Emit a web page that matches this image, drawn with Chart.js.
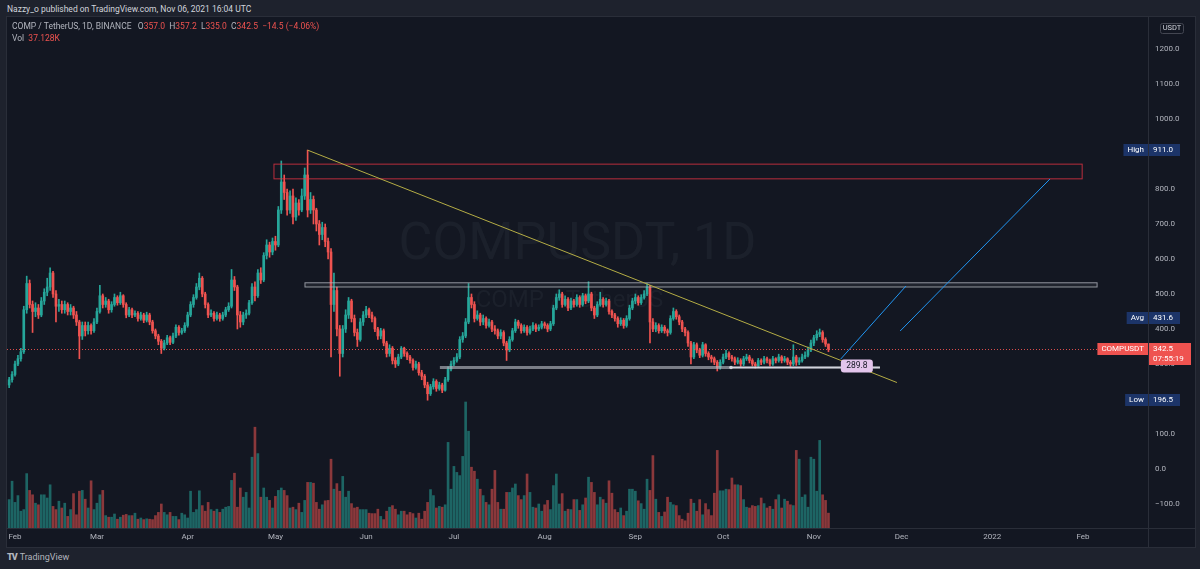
<!DOCTYPE html>
<html>
<head>
<meta charset="utf-8">
<script src="https://cdn.jsdelivr.net/npm/chart.js@4/dist/chart.umd.min.js"></script>
<style>
  html, body { margin: 0; padding: 0; width: 1200px; height: 569px; overflow: hidden; background: #1e222d; font-family: Roboto, "Liberation Sans", Arial, sans-serif; }
  #byline { position: absolute; left: 7px; top: 4px; font-size: 8.5px; line-height: 10px; color: #d1d4dc; }
  #pane { position: absolute; left: 6px; top: 16px; width: 1190px; height: 532px; box-sizing: border-box; border: 1px solid #2a2e39; background: #131722; }
  #wrap { position: absolute; left: 7px; top: 17px; width: 1188px; height: 530px; }
  #legend { position: absolute; left: 12px; top: 20px; font-size: 8.5px; line-height: 12px; color: #b2b5be; }
  #legend .v { color: #ef5350; }
  #logo { position: absolute; left: 7px; top: 551px; font-size: 9px; line-height: 12px; color: #b2b5be; }
  #logo b { font-weight: 900; letter-spacing: -1px; margin-right: 3px; }
</style>
</head>
<body>
<div id="byline">Nazzy_o published on TradingView.com, Nov 06, 2021 16:04 UTC</div>
<div id="pane"></div>
<div id="wrap"><canvas id="chart" width="1188" height="530"></canvas></div>
<div id="legend">
  <div id="legend-ohlc"></div>
  <div id="legend-vol"></div>
</div>
<div id="logo"><b>TV</b>TradingView</div>
<script>
// 日线数据: 第 0 天 = 2021-02-01
const firstDay = -2;
const firstOpen = 240;
const closes = [
  255, 270,
  // Feb
  300, 315, 335, 455, 530, 470, 450, 460, 440, 480, 505, 520, 560, 500, 465, 470, 455, 470, 450, 460, 440, 420, 380, 410, 395, 410, 395, 420,
  // Mar
  450, 495, 470, 480, 455, 470, 490, 475, 495, 470, 440, 455, 440, 445, 430, 440, 425, 440, 420, 395, 380, 365, 345, 360, 375, 362, 380, 405, 390, 395, 410,
  // Apr
  440, 470, 490, 520, 545, 500, 470, 440, 445, 430, 440, 430, 440, 455, 465, 540, 520, 440, 420, 440, 445, 475, 520, 495, 560, 540, 610, 640, 620, 650,
  // May
  640, 740, 820, 790, 740, 780, 720, 760, 740, 780, 840, 740, 770, 740, 700, 670, 690, 650, 620, 470, 510, 400, 330, 400, 440, 480, 430, 390, 370, 420, 440,
  // Jun
  455, 440, 430, 400, 380, 395, 360, 330, 345, 310, 300, 320, 345, 330, 320, 310, 290, 300, 275, 265, 240, 215, 235, 250, 230, 240, 225, 255, 285, 300,
  // Jul
  310, 320, 370, 380, 420, 490, 470, 430, 440, 420, 430, 410, 420, 400, 395, 380, 390, 360, 340, 370, 395, 420, 410, 395, 405, 390, 400, 410, 400, 405, 415,
  // Aug
  410, 400, 415, 460, 490, 500, 470, 485, 460, 480, 470, 490, 470, 495, 480, 500, 460, 440, 470, 485, 470, 480, 450, 440, 430, 415, 425, 410, 430, 460, 480,
  // Sep
  490, 475, 490, 500, 520, 420, 400, 410, 395, 405, 395, 390, 430, 450, 435, 420, 400, 390, 360, 320, 355, 340, 325, 355, 330, 320, 315, 305, 290, 305,
  // Oct
  320, 330, 320, 315, 305, 310, 300, 315, 320, 310, 300, 295, 310, 305, 315, 310, 300, 315, 310, 320, 310, 315, 305, 300, 320, 305, 310, 320, 325, 340, 360,
  // Nov
  375, 385, 390, 370, 357, 342.5
];
const highs = [
  262, 278,
  308, 325, 345, 465, 551, 540, 480, 475, 470, 490, 515, 545, 575, 565, 510, 485, 480, 480, 475, 470, 465, 450, 425, 420, 420, 420, 415, 430,
  460, 525, 500, 490, 485, 478, 500, 495, 505, 498, 475, 462, 460, 452, 450, 448, 445, 448, 445, 425, 400, 385, 370, 368, 382, 380, 388, 412, 410, 402, 418,
  448, 478, 498, 530, 560, 550, 505, 475, 455, 450, 448, 445, 448, 462, 475, 570, 550, 525, 450, 448, 455, 482, 530, 535, 570, 575, 618, 655, 648, 660,
  665, 750, 880, 840, 800, 795, 800, 775, 770, 800, 860, 911, 790, 780, 745, 710, 705, 700, 660, 630, 560, 520, 410, 410, 455, 490, 485, 440, 400, 430, 450,
  465, 460, 448, 435, 405, 402, 400, 365, 355, 350, 318, 328, 350, 348, 335, 325, 315, 308, 305, 282, 270, 248, 242, 258, 255, 248, 245, 262, 292, 308,
  318, 330, 378, 390, 430, 530, 500, 478, 452, 445, 440, 435, 428, 425, 410, 400, 398, 395, 365, 378, 402, 428, 425, 415, 412, 410, 408, 418, 415, 412, 422,
  420, 415, 422, 468, 500, 512, 505, 495, 490, 488, 485, 498, 495, 502, 500, 535, 505, 465, 478, 505, 490, 488, 485, 455, 445, 435, 432, 430, 438, 468, 488,
  500, 495, 498, 510, 530, 525, 430, 418, 415, 412, 410, 400, 438, 460, 455, 440, 425, 405, 395, 365, 362, 360, 345, 362, 358, 335, 325, 320, 310, 312,
  328, 340, 335, 325, 320, 318, 315, 322, 328, 325, 315, 305, 316, 315, 322, 320, 314, 322, 318, 328, 324, 322, 318, 310, 355, 325, 318, 328, 335, 348, 368,
  382, 395, 400, 395, 375, 357.2
];
const lows = [
  232, 248,
  265, 295, 308, 330, 445, 460, 390, 435, 430, 435, 470, 495, 510, 490, 420, 450, 445, 445, 440, 440, 430, 410, 315, 370, 380, 385, 385, 390,
  415, 445, 460, 462, 445, 448, 465, 468, 470, 462, 432, 435, 432, 435, 422, 425, 418, 420, 412, 388, 372, 355, 330, 340, 355, 355, 358, 375, 382, 385, 390,
  405, 435, 462, 485, 512, 492, 460, 432, 435, 422, 425, 422, 425, 435, 450, 460, 510, 400, 405, 412, 430, 440, 470, 480, 490, 530, 535, 600, 605, 612,
  625, 635, 730, 770, 725, 730, 700, 710, 725, 735, 770, 720, 730, 700, 680, 640, 655, 635, 600, 320, 450, 380, 265, 320, 390, 430, 420, 380, 350, 365, 410,
  432, 432, 420, 392, 370, 372, 352, 320, 322, 300, 290, 295, 315, 322, 312, 302, 282, 285, 268, 255, 232, 196.5, 210, 228, 222, 225, 218, 222, 250, 280,
  295, 305, 315, 362, 375, 415, 460, 420, 425, 410, 412, 402, 405, 392, 385, 372, 372, 352, 310, 335, 365, 390, 402, 388, 390, 382, 385, 395, 392, 395, 400,
  402, 392, 395, 410, 455, 482, 462, 465, 452, 455, 462, 465, 462, 465, 472, 475, 452, 430, 435, 465, 462, 465, 442, 432, 422, 405, 410, 402, 405, 425, 455,
  472, 468, 470, 485, 495, 360, 392, 392, 388, 390, 388, 380, 385, 425, 428, 412, 392, 380, 350, 300, 315, 332, 318, 320, 322, 312, 305, 298, 280, 285,
  300, 315, 312, 308, 298, 300, 292, 295, 310, 303, 294, 288, 290, 298, 300, 303, 294, 296, 303, 305, 303, 305, 298, 292, 295, 296, 298, 305, 315, 320, 335,
  352, 368, 378, 362, 350, 335
];
// 成交量 (K)
const volumes = [
  71, 117,
  64, 81, 42, 46, 136, 94, 83, 62, 58, 83, 83, 75, 108, 54, 46, 67, 50, 62, 29, 46, 86, 33, 92, 94, 72, 50, 118, 46,
  62, 83, 94, 31, 27, 27, 35, 22, 27, 32, 34, 31, 31, 37, 22, 25, 21, 23, 22, 21, 31, 39, 60, 39, 33, 39, 29, 29, 21, 37, 33,
  25, 92, 39, 46, 93, 56, 42, 64, 46, 42, 47, 39, 47, 52, 54, 119, 137, 52, 100, 77, 89, 50, 177, 252, 186, 77, 100, 77, 69, 50,
  79, 94, 100, 94, 81, 50, 52, 46, 62, 39, 69, 114, 114, 112, 64, 47, 58, 68, 69, 172, 97, 111, 92, 129, 77, 92, 61, 50, 52, 46, 46,
  46, 37, 36, 36, 47, 29, 21, 42, 52, 56, 47, 33, 42, 42, 33, 39, 36, 25, 37, 22, 42, 64, 96, 81, 50, 54, 52, 58, 214, 97,
  154, 139, 131, 179, 315, 242, 152, 142, 122, 97, 81, 64, 58, 97, 144, 64, 47, 47, 89, 89, 100, 110, 81, 71, 81, 135, 89, 52, 50, 60, 42,
  58, 69, 46, 106, 135, 60, 86, 42, 47, 46, 71, 71, 44, 58, 75, 127, 114, 89, 58, 77, 71, 62, 118, 87, 46, 39, 50, 31, 42, 97, 97,
  92, 68, 61, 47, 122, 94, 181, 72, 39, 29, 40, 77, 64, 58, 56, 31, 22, 18, 37, 72, 62, 42, 71, 33, 61, 46, 31, 87, 194, 93,
  93, 97, 96, 125, 108, 108, 106, 71, 52, 50, 56, 54, 56, 75, 61, 50, 54, 47, 71, 83, 50, 72, 67, 58, 56, 194, 172, 77, 83, 52, 177,
  172, 92, 219, 83, 69, 37.128
];
const monthTicks = [0, 28, 59, 89, 120, 150, 181, 212, 242, 273, 303, 334, 365];
const monthLabels = ['Feb', 'Mar', 'Apr', 'May', 'Jun', 'Jul', 'Aug', 'Sep', 'Oct', 'Nov', 'Dec', '2022', 'Feb'];
const statHigh = 911.0;
const statAvg = 431.6;
const statLow = 196.5;
const countdown = '07:55:19';

// 画线 (天, 价格)
const redZone = [88.5, 364.7, 871, 829];
const rangeZone = [99.1, 369.8, 532, 520];
const trendLine = [100, 911, 301.4, 247];
const supportLine = [145.2, 295.6, 289.8];
const supportMarker = 244.7;
const arrowPaths = [[282.2, 314.3, 304.5, 522.9], [302.5, 394.3, 353.7, 828.6]];

const UP = '#26a69a';
const DOWN = '#ef5350';
const FONT = 'Roboto, "Liberation Sans", Arial, sans-serif';

const opens = closes.map((c, i) => i === 0 ? firstOpen : closes[i - 1]);
const xs = closes.map((c, i) => firstDay + i);
const rising = closes.map((c, i) => c >= opens[i]);
const last = closes.length - 1;

// 图例
function fmt(v) { return v.toFixed(1).replace('-', '\u2212'); }
const chg = closes[last] - opens[last];
document.getElementById('legend-ohlc').innerHTML =
  'COMP / TetherUS, 1D, BINANCE&nbsp;&nbsp; O<span class="v">' + fmt(opens[last]) +
  '</span>&nbsp; H<span class="v">' + fmt(highs[last]) +
  '</span>&nbsp; L<span class="v">' + fmt(lows[last]) +
  '</span>&nbsp; C<span class="v">' + fmt(closes[last]) +
  '</span>&nbsp; <span class="v">' + fmt(chg) + ' (' + (chg / opens[last] * 100).toFixed(2).replace('-', '\u2212') + '%)</span>';
document.getElementById('legend-vol').innerHTML = 'Vol&nbsp; <span class="v">' + volumes[last].toFixed(3) + 'K</span>';

function roundRect(ctx, x, y, w, h, r) {
  ctx.beginPath();
  ctx.moveTo(x + r, y);
  ctx.arcTo(x + w, y, x + w, y + h, r);
  ctx.arcTo(x + w, y + h, x, y + h, r);
  ctx.arcTo(x, y + h, x, y, r);
  ctx.arcTo(x, y, x + w, y, r);
  ctx.closePath();
}

const drawings = {
  id: 'drawings',
  beforeDatasetsDraw(chart) {
    const {ctx, chartArea: a} = chart;
    const cx = (a.left + a.right) / 2;
    const cy = (a.top + a.bottom) / 2;
    ctx.save();
    ctx.fillStyle = 'rgba(178,181,190,0.06)';
    ctx.textAlign = 'center';
    ctx.textBaseline = 'middle';
    ctx.font = '52px ' + FONT;
    ctx.fillText('COMPUSDT, 1D', cx, cy - 27);
    ctx.font = '24px ' + FONT;
    ctx.fillText('COMP / TetherUS', cx - 8, cy + 28);
    ctx.restore();
  },
  afterDatasetsDraw(chart) {
    const {ctx, chartArea: a} = chart;
    const sx = chart.scales.x, sy = chart.scales.y;
    const px = v => sx.getPixelForValue(v);
    const py = v => sy.getPixelForValue(v);
    ctx.save();
    ctx.beginPath();
    ctx.rect(a.left, a.top, a.right - a.left, a.bottom - a.top);
    ctx.clip();

    // 当前价格虚线
    ctx.strokeStyle = 'rgba(239,83,80,0.9)';
    ctx.lineWidth = 1;
    ctx.setLineDash([1, 2]);
    ctx.beginPath();
    ctx.moveTo(a.left, Math.round(py(closes[last])) + 0.5);
    ctx.lineTo(a.right, Math.round(py(closes[last])) + 0.5);
    ctx.stroke();
    ctx.setLineDash([]);

    // 阻力区
    ctx.strokeStyle = 'rgba(242,54,69,0.75)';
    ctx.strokeRect(px(redZone[0]), py(redZone[2]), px(redZone[1]) - px(redZone[0]), py(redZone[3]) - py(redZone[2]));
    ctx.fillStyle = 'rgba(120,123,134,0.12)';
    ctx.fillRect(px(rangeZone[0]), py(rangeZone[2]), px(rangeZone[1]) - px(rangeZone[0]), py(rangeZone[3]) - py(rangeZone[2]));
    ctx.strokeStyle = 'rgba(178,181,190,0.8)';
    ctx.strokeRect(px(rangeZone[0]), py(rangeZone[2]), px(rangeZone[1]) - px(rangeZone[0]), py(rangeZone[3]) - py(rangeZone[2]));

    // 趋势线
    ctx.strokeStyle = '#b5ad45';
    ctx.beginPath();
    ctx.moveTo(px(trendLine[0]), py(trendLine[1]));
    ctx.lineTo(px(trendLine[2]), py(trendLine[3]));
    ctx.stroke();

    // 支撑线
    const sY = py(supportLine[2]);
    ctx.strokeStyle = 'rgba(178,181,190,0.65)';
    ctx.lineWidth = 3;
    ctx.beginPath();
    ctx.moveTo(px(supportLine[0]), sY);
    ctx.lineTo(px(supportLine[1]), sY);
    ctx.stroke();
    ctx.strokeStyle = 'rgba(230,232,240,0.85)';
    ctx.lineWidth = 1;
    ctx.beginPath();
    ctx.moveTo(px(supportMarker), sY);
    ctx.lineTo(px(supportLine[1]), sY);
    ctx.stroke();
    ctx.fillStyle = '#d1d4dc';
    ctx.beginPath();
    ctx.arc(px(supportMarker), sY, 1.8, 0, Math.PI * 2);
    ctx.fill();

    // 箭头
    ctx.strokeStyle = '#2196f3';
    ctx.lineWidth = 1;
    arrowPaths.forEach(p => {
      ctx.beginPath();
      ctx.moveTo(px(p[0]), py(p[1]));
      ctx.lineTo(px(p[2]), py(p[3]));
      ctx.stroke();
    });

    // 289.8 标签
    const lx = px(287.7);
    ctx.fillStyle = '#e3c5ec';
    roundRect(ctx, lx - 16, sY - 8, 32, 13, 3);
    ctx.fill();
    ctx.fillStyle = '#131722';
    ctx.font = '8.5px ' + FONT;
    ctx.textAlign = 'center';
    ctx.textBaseline = 'middle';
    ctx.fillText(fmt(supportLine[2]), lx, sY - 1.5);
    ctx.restore();
  },
  afterDraw(chart) {
    const {ctx, chartArea: a, width, height} = chart;
    const sy = chart.scales.y;
    const py = v => Math.round(sy.getPixelForValue(v));
    ctx.save();
    ctx.strokeStyle = '#2a2e39';
    ctx.lineWidth = 1;
    ctx.beginPath();
    ctx.moveTo(0, a.bottom + 0.5);
    ctx.lineTo(width, a.bottom + 0.5);
    ctx.moveTo(a.right + 0.5, a.bottom);
    ctx.lineTo(a.right + 0.5, height);
    ctx.stroke();

    ctx.font = '8px ' + FONT;
    ctx.textBaseline = 'middle';
    function tag(price, text, bg) {
      const y = py(price);
      const w = ctx.measureText(text).width + 8;
      ctx.fillStyle = bg;
      ctx.fillRect(a.right - w, y - 6, w, 12);
      ctx.fillStyle = '#ffffff';
      ctx.textAlign = 'center';
      ctx.fillText(text, a.right - w / 2, y);
    }
    function axisBox(price, text, bg) {
      const y = py(price);
      ctx.fillStyle = bg;
      ctx.fillRect(a.right + 1, y - 6, 31, 12);
      ctx.fillStyle = '#ffffff';
      ctx.textAlign = 'left';
      ctx.fillText(text, a.right + 5, y);
    }
    const NAVY = '#1c3468';
    tag(statHigh, 'High', NAVY); axisBox(statHigh, fmt(statHigh), NAVY);
    tag(statAvg, 'Avg', NAVY); axisBox(statAvg, fmt(statAvg), NAVY);
    tag(statLow, 'Low', NAVY); axisBox(statLow, fmt(statLow), NAVY);

    // 最新价格
    const ly = py(closes[last]);
    tag(closes[last], 'COMPUSDT', DOWN);
    ctx.fillStyle = DOWN;
    ctx.fillRect(a.right + 1, ly - 6, 42, 22);
    ctx.fillStyle = '#ffffff';
    ctx.textAlign = 'left';
    ctx.fillText(fmt(closes[last]), a.right + 5, ly);
    ctx.fillText(countdown, a.right + 5, ly + 10);

    // 单位
    ctx.strokeStyle = '#434651';
    roundRect(ctx, a.right + 12.5, 6.5, 23, 10, 2);
    ctx.stroke();
    ctx.fillStyle = '#d1d4dc';
    ctx.font = '7.5px ' + FONT;
    ctx.textAlign = 'center';
    ctx.fillText('USDT', a.right + 24, 11.5);
    ctx.restore();
  }
};

new Chart(document.getElementById('chart').getContext('2d'), {
  type: 'bar',
  data: {
    datasets: [
      {
        label: 'Body',
        data: xs.map((x, i) => ({x: x, y: [opens[i], closes[i]]})),
        backgroundColor: rising.map(r => r ? UP : DOWN),
        grouped: false,
        maxBarThickness: 2,
        barPercentage: 1,
        categoryPercentage: 1,
        minBarLength: 1,
        yAxisID: 'y',
        order: 0
      },
      {
        label: 'Wick',
        data: xs.map((x, i) => ({x: x, y: [lows[i], highs[i]]})),
        backgroundColor: rising.map(r => r ? UP : DOWN),
        grouped: false,
        maxBarThickness: 1,
        barPercentage: 1,
        categoryPercentage: 1,
        yAxisID: 'y',
        order: 1
      },
      {
        label: 'Volume',
        data: xs.map((x, i) => ({x: x, y: volumes[i]})),
        backgroundColor: rising.map(r => r ? 'rgba(38,166,154,0.55)' : 'rgba(239,83,80,0.55)'),
        grouped: false,
        maxBarThickness: 2,
        barPercentage: 1,
        categoryPercentage: 1,
        yAxisID: 'yv',
        order: 2
      }
    ]
  },
  options: {
    responsive: false,
    animation: false,
    devicePixelRatio: 1,
    events: [],
    layout: { padding: 0 },
    plugins: { legend: { display: false }, tooltip: { enabled: false } },
    scales: {
      x: {
        type: 'linear',
        offset: false,
        bounds: 'ticks',
        min: -2.734,
        max: 387.2,
        grid: { display: false, drawTicks: false, offset: false },
        border: { display: true, color: '#2a2e39' },
        ticks: {
          padding: 4,
          color: '#b2b5be',
          font: { size: 8, family: FONT },
          maxRotation: 0,
          autoSkip: false,
          callback: v => monthLabels[monthTicks.indexOf(v)]
        },
        afterBuildTicks: s => { s.ticks = monthTicks.map(v => ({value: v})); },
        afterFit: s => { s.height = 19; s.paddingLeft = 0; s.paddingRight = 0; }
      },
      y: {
        position: 'right',
        min: -168.6,
        max: 1291.4,
        grid: { display: false, drawTicks: false },
        border: { display: true, color: '#2a2e39' },
        ticks: {
          stepSize: 100,
          includeBounds: false,
          padding: 7,
          color: '#b2b5be',
          font: { size: 8, family: FONT },
          autoSkip: false,
          callback: v => fmt(v)
        },
        afterFit: s => { s.width = 47; s.paddingTop = 0; s.paddingBottom = 0; }
      },
      yv: {
        display: false,
        min: 0,
        max: 1277.5
      }
    }
  },
  plugins: [drawings]
});
</script>
</body>
</html>
